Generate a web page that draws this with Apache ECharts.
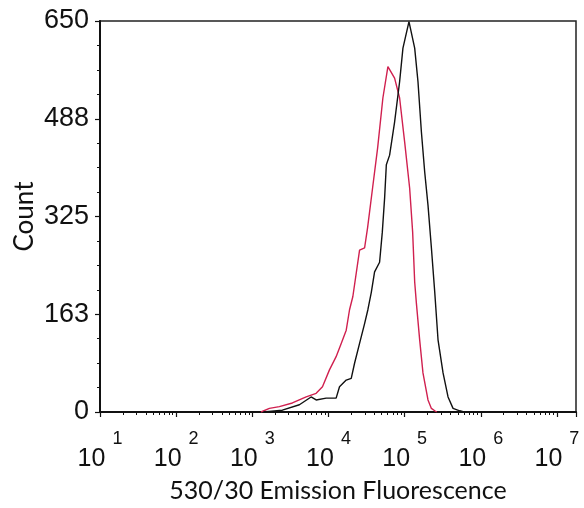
<!DOCTYPE html>
<html>
<head>
<meta charset="utf-8">
<script src="https://cdn.jsdelivr.net/npm/echarts@6/dist/echarts.min.js"></script>
<style>
html,body{margin:0;padding:0;background:#fff;}
#chart{width:584px;height:508px;}
</style>
</head>
<body>
<div id="chart"></div>
<script>
// Fluorescence (530/30) values and counts
const redX = [1300,1675,2265,3357,5090,6890,8340,10300,12600,14700,17100,18900,20900,25600,29800,32600,37900,44200,51800,60300,73800,85900,100000,116400,127400,135500,142600,157500,174000,202600,224500,248500,265000];
const redY = [0,6,9,15,25,31,42,70,92,114,136,170,192,269,273,306,372,439,522,574,555,522,449,372,299,216,181,120,65,20,6,2,0];

const blackX = [1400,2480,4150,5910,6890,9330,12600,13960,17100,19900,22000,25600,29800,32900,36500,40300,46900,50900,54600,57500,63500,73800,85900,95000,114000,135500,149700,165900,183400,202600,224500,248500,274400,319400,371500,432000,529000,600000];
const blackY = [0,3,12,25,20,23,23,42,53,56,81,114,147,170,199,233,249,299,356,411,427,482,549,605,649,605,549,466,399,344,273,199,120,65,25,6,2,0];

const yTicks = [0,163,325,488,650];
const xDecades = [1,2,3,4,5,6,7];
const minorMultipliers = [2,3,4,5,6,7,8,9];

const xMin = 10, xMax = Math.pow(10, 7.25);
const minorTickValues = [];
for (let d = 1; d <= 6; d++) for (const m of minorMultipliers) minorTickValues.push(m * Math.pow(10, d));

const numFont = '"Liberation Sans", Arial, sans-serif';
const titleFont = 'Lato, "Open Sans", sans-serif';

const chart = echarts.init(document.getElementById('chart'));
chart.setOption({
  animation: false,
  backgroundColor: '#fff',
  grid: { left: 100, right: 8, top: 21, bottom: 96, containLabel: false, outerBoundsMode: 'none', show: true, borderColor: '#222', borderWidth: 1.5, backgroundColor: 'transparent' },
  xAxis: [{
    type: 'log', logBase: 10, min: xMin, max: xMax,
    name: '530/30 Emission Fluorescence', nameLocation: 'middle', nameGap: 66, nameMoveOverlap: false,
    nameTextStyle: { fontFamily: titleFont, fontSize: 25, color: '#111' },
    axisLine: { show: true, lineStyle: { color: '#111', width: 2 } },
    axisTick: { show: true, length: 5, lineStyle: { color: '#111', width: 1.2 } },
    splitLine: { show: false },
    minorTick: { show: false },
    axisLabel: {
      margin: 35,
      formatter: function (v) {
        const e = Math.log10(v), r = Math.round(e);
        if (Math.abs(e - r) > 1e-6 || xDecades.indexOf(r) < 0) return '';
        return '{b|10}{s|' + r + '}';
      },
      rich: {
        b: { fontFamily: numFont, fontSize: 25, lineHeight: 25, color: '#111' },
        s: { fontFamily: numFont, fontSize: 18, lineHeight: 18, color: '#111', padding: [0, 0, 41, 7] }
      }
    }
  }, {
    type: 'log', logBase: 10, min: xMin, max: xMax, gridIndex: 0, position: 'bottom',
    axisLine: { show: false }, axisLabel: { show: false }, splitLine: { show: false },
    axisTick: { show: true, length: 3, customValues: minorTickValues, lineStyle: { color: '#111', width: 1 } }
  }],
  yAxis: {
    type: 'value', min: 0, max: 650, interval: 162.5,
    name: 'Count', nameLocation: 'middle', nameGap: 62, nameRotate: 90, nameMoveOverlap: false,
    nameTextStyle: { fontFamily: titleFont, fontSize: 26, color: '#111' },
    axisLine: { show: true, lineStyle: { color: '#111', width: 2 } },
    axisTick: { show: true, length: 5, lineStyle: { color: '#111', width: 1.2 } },
    minorTick: { show: true, splitNumber: 4, length: 3, lineStyle: { color: '#111', width: 1 } },
    splitLine: { show: false },
    axisLabel: {
      margin: 11, fontFamily: numFont, fontSize: 27, color: '#111',
      formatter: function (v) { return String(yTicks[Math.round(v / 162.5)]); }
    }
  },
  series: [{
    type: 'line', name: 'red', showSymbol: false, xAxisIndex: 0,
    data: redX.map((x, i) => [x, redY[i]]),
    lineStyle: { color: '#d0204f', width: 1.4 }, itemStyle: { color: '#d0204f' }, z: 3
  }, {
    type: 'line', name: 'black', showSymbol: false, xAxisIndex: 0,
    data: blackX.map((x, i) => [x, blackY[i]]),
    lineStyle: { color: '#111', width: 1.4 }, itemStyle: { color: '#111' }, z: 4
  }]
});
</script>
</body>
</html>
